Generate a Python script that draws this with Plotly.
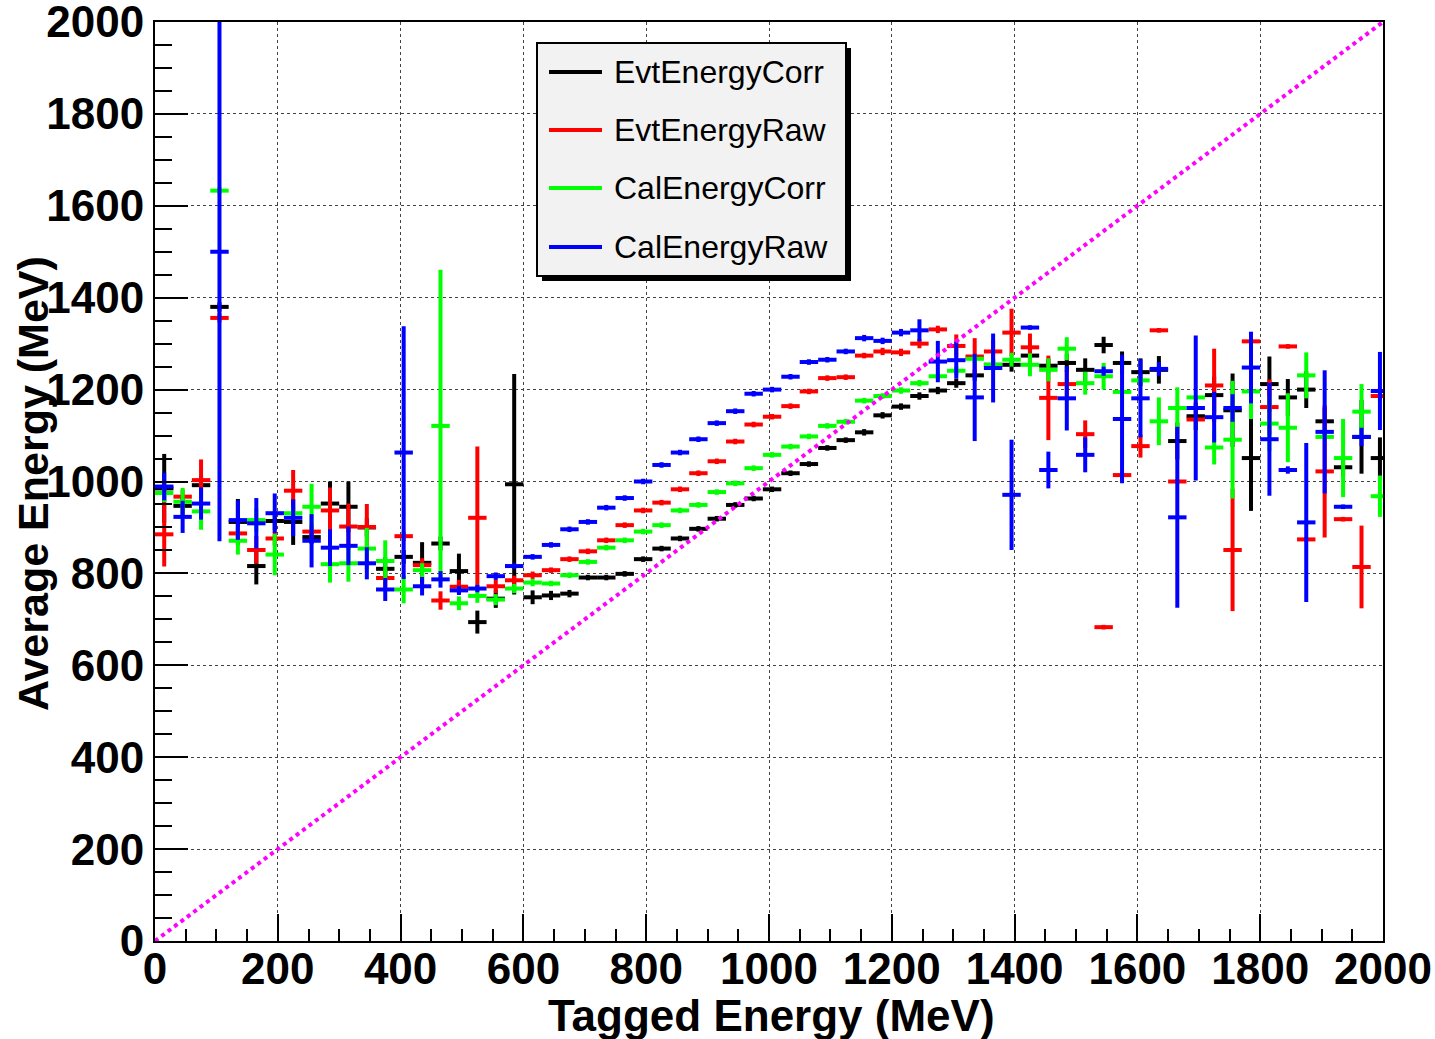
import plotly.graph_objects as go

# 67 bins of 30 MeV, centers 15, 45, ..., 1995
bin_width = 30
n_bins = 67
bin_centers = [15 + bin_width * i for i in range(n_bins)]

evt_corr = [985, 947, 992, 1380, 912, 816, 914, 912, 879, 952, 945, 900, 810, 836, 823, 865,
            805, 694, 745, 994, 748, 752, 756, 791, 791, 799, 831, 854, 876, 897, 919, 949,
            963, 983, 1018, 1038, 1073, 1090, 1107, 1144, 1163, 1186, 1198, 1214, 1231, 1254,
            1254, 1274, 1252, 1258, 1243, 1297, 1258, 1238, 1243, 1088, 1142, 1188, 1155, 1051,
            1212, 1183, 1200, 1131, 1031, 1097, 1051]
evt_corr_err = [75, 20, 20, 10, 50, 40, 20, 50, 15, 48, 55, 20, 25, 15, 45, 15,
                38, 25, 20, 240, 15, 10, 8, 6, 6, 6, 6, 6, 6, 6, 6, 6,
                6, 6, 6, 6, 6, 6, 7, 7, 7, 8, 8, 10, 12, 12,
                15, 15, 15, 20, 25, 18, 25, 30, 30, 40, 30, 40, 80, 115,
                60, 40, 40, 30, 20, 80, 45]

evt_raw = [885, 967, 1003, 1356, 887, 851, 876, 980, 891, 937, 902, 901, 790, 881, 818, 741,
           771, 921, 772, 785, 796, 807, 831, 848, 872, 905, 937, 954, 983, 1018, 1044, 1087,
           1124, 1141, 1164, 1196, 1225, 1227, 1274, 1283, 1281, 1300, 1331, 1295, 1272, 1283,
           1324, 1292, 1182, 1212, 1103, 683, 1014, 1077, 1329, 1000, 1135, 1209, 851, 1305,
           1162, 1294, 874, 1022, 918, 814, 1186]
evt_raw_err = [70, 15, 45, 10, 20, 30, 15, 45, 15, 50, 50, 50, 20, 10, 15, 20,
               15, 155, 15, 10, 8, 6, 6, 6, 6, 6, 6, 6, 6, 6, 6, 6,
               6, 6, 6, 6, 6, 6, 6, 8, 8, 10, 8, 25, 40, 25,
               52, 30, 92, 30, 30, 5, 8, 25, 5, 5, 5, 80, 133, 5,
               60, 5, 5, 144, 5, 90, 10]

cal_corr = [975, 956, 935, 1633, 871, 916, 841, 931, 945, 820, 822, 854, 827, 765, 807, 1121,
            735, 751, 743, 767, 780, 778, 796, 825, 856, 872, 891, 905, 937, 949, 977, 996,
            1029, 1058, 1076, 1098, 1121, 1130, 1176, 1186, 1198, 1214, 1229, 1241, 1267, 1254,
            1265, 1254, 1243, 1289, 1214, 1229, 1195, 1220, 1131, 1160, 1183, 1074, 1091, 1196,
            1126, 1117, 1231, 1097, 1051, 1152, 968]
cal_corr_err = [20, 30, 40, 8, 30, 25, 45, 15, 50, 40, 40, 45, 45, 30, 15, 340,
                15, 15, 12, 10, 8, 6, 6, 6, 6, 6, 6, 6, 6, 6, 6, 6,
                6, 6, 6, 6, 6, 6, 6, 6, 7, 7, 8, 10, 10, 12,
                15, 25, 25, 25, 25, 29, 10, 10, 52, 45, 5, 37, 128, 60,
                60, 75, 50, 5, 85, 60, 45]

cal_raw = [989, 923, 952, 1500, 916, 909, 931, 921, 871, 856, 860, 822, 765, 1063, 772, 787,
           763, 767, 794, 816, 836, 862, 896, 912, 943, 964, 1000, 1036, 1063, 1092, 1127, 1153,
           1191, 1200, 1228, 1260, 1265, 1283, 1312, 1306, 1324, 1329, 1261, 1264, 1183, 1247,
           971, 1335, 1025, 1181, 1058, 1240, 1136, 1181, 1245, 922, 1160, 1140, 1160, 1248,
           1092, 1025, 911, 1108, 945, 1097, 1197]
cal_raw_err = [30, 35, 35, 630, 43, 55, 43, 40, 58, 40, 42, 35, 25, 275, 20, 18,
               10, 8, 8, 6, 6, 6, 6, 6, 6, 6, 6, 6, 6, 6, 6, 6,
               6, 6, 6, 6, 6, 6, 7, 7, 8, 24, 45, 40, 95, 75,
               120, 5, 40, 70, 38, 10, 140, 85, 15, 197, 158, 55, 30, 78,
               123, 8, 173, 134, 5, 20, 85]

series_names = ["EvtEnergyCorr", "EvtEnergyRaw", "CalEnergyCorr", "CalEnergyRaw"]
series_values = [evt_corr, evt_raw, cal_corr, cal_raw]
series_errors = [evt_corr_err, evt_raw_err, cal_corr_err, cal_raw_err]
series_colors = ["#000000", "#ff0000", "#00ff00", "#0000ff"]

diag_x = [0, 2000]
diag_y = [0, 2000]

FONT = "Liberation Sans, Arial, Helvetica, sans-serif"

fig = go.Figure()
for name, vals, errs, col in zip(series_names, series_values, series_errors, series_colors):
    fig.add_trace(go.Scatter(
        x=bin_centers, y=vals, mode="markers", name=name, showlegend=False,
        marker=dict(size=1, color=col),
        error_x=dict(type="constant", value=bin_width / 2, thickness=4, width=0, color=col),
        error_y=dict(type="data", array=errs, thickness=4, width=0, color=col),
        cliponaxis=True,
    ))

fig.add_trace(go.Scatter(x=diag_x, y=diag_y, mode="lines", showlegend=False,
                         line=dict(color="#ff00ff", width=4, dash="dot")))

W, H = 1435, 1039
L, R, T, B = 155, 52, 22, 98
pw, ph = W - L - R, H - T - B


def px(X):
    return (X - L) / pw


def py(Y):
    return (H - B - Y) / ph


# legend box with shadow
shapes = [
    dict(type="rect", xref="paper", yref="paper", x0=px(542), x1=px(851), y0=py(281), y1=py(48),
         fillcolor="black", line=dict(width=0), layer="above"),
    dict(type="rect", xref="paper", yref="paper", x0=px(537), x1=px(846), y0=py(276), y1=py(43),
         fillcolor="#f2f2f2", line=dict(color="black", width=2), layer="above"),
]
annotations = []
rows_y = [72, 130, 188, 247]
for name, col, ry in zip(series_names, series_colors, rows_y):
    shapes.append(dict(type="line", xref="paper", yref="paper", x0=px(549), x1=px(602),
                       y0=py(ry), y1=py(ry), line=dict(color=col, width=4), layer="above"))
    annotations.append(dict(xref="paper", yref="paper", x=px(612), y=py(ry), text=name,
                            showarrow=False, xanchor="left", yanchor="middle",
                            font=dict(family=FONT, size=32, color="black")))

annotations.append(dict(xref="paper", yref="paper", x=px(771), y=py(1016),
                        text="Tagged Energy (MeV)", showarrow=False,
                        xanchor="center", yanchor="middle",
                        font=dict(family=FONT, size=44, color="black", weight="bold")))
annotations.append(dict(xref="paper", yref="paper", x=px(33), y=py(484),
                        text="Average Energy (MeV)", showarrow=False, textangle=-90,
                        xanchor="center", yanchor="middle",
                        font=dict(family=FONT, size=43, color="black", weight="bold")))

axis_common = dict(
    range=[0, 2000], dtick=200, tick0=0, automargin=False,
    showline=True, linecolor="black", linewidth=2, mirror=True,
    ticks="inside", tickcolor="black", tickwidth=2,
    showgrid=True, gridcolor="#444444", gridwidth=1, griddash="dot",
    zeroline=False, ticklabeloverflow="allow",
    tickfont=dict(family=FONT, size=44, color="black", weight="bold"),
)

fig.update_layout(
    width=W, height=H,
    margin=dict(l=L, r=R, t=T, b=B, autoexpand=False),
    paper_bgcolor="white", plot_bgcolor="white",
    showlegend=False,
    xaxis=dict(**axis_common, ticklen=27, ticklabelstandoff=-12,
               minor=dict(dtick=50, ticklen=12, tickwidth=2, tickcolor="black", ticks="inside",
                          showgrid=False)),
    yaxis=dict(**axis_common, ticklen=33, ticklabelstandoff=0,
               minor=dict(dtick=50, ticklen=17, tickwidth=2, tickcolor="black", ticks="inside",
                          showgrid=False)),
    shapes=shapes,
    annotations=annotations,
)

fig.write_html("out.html")
